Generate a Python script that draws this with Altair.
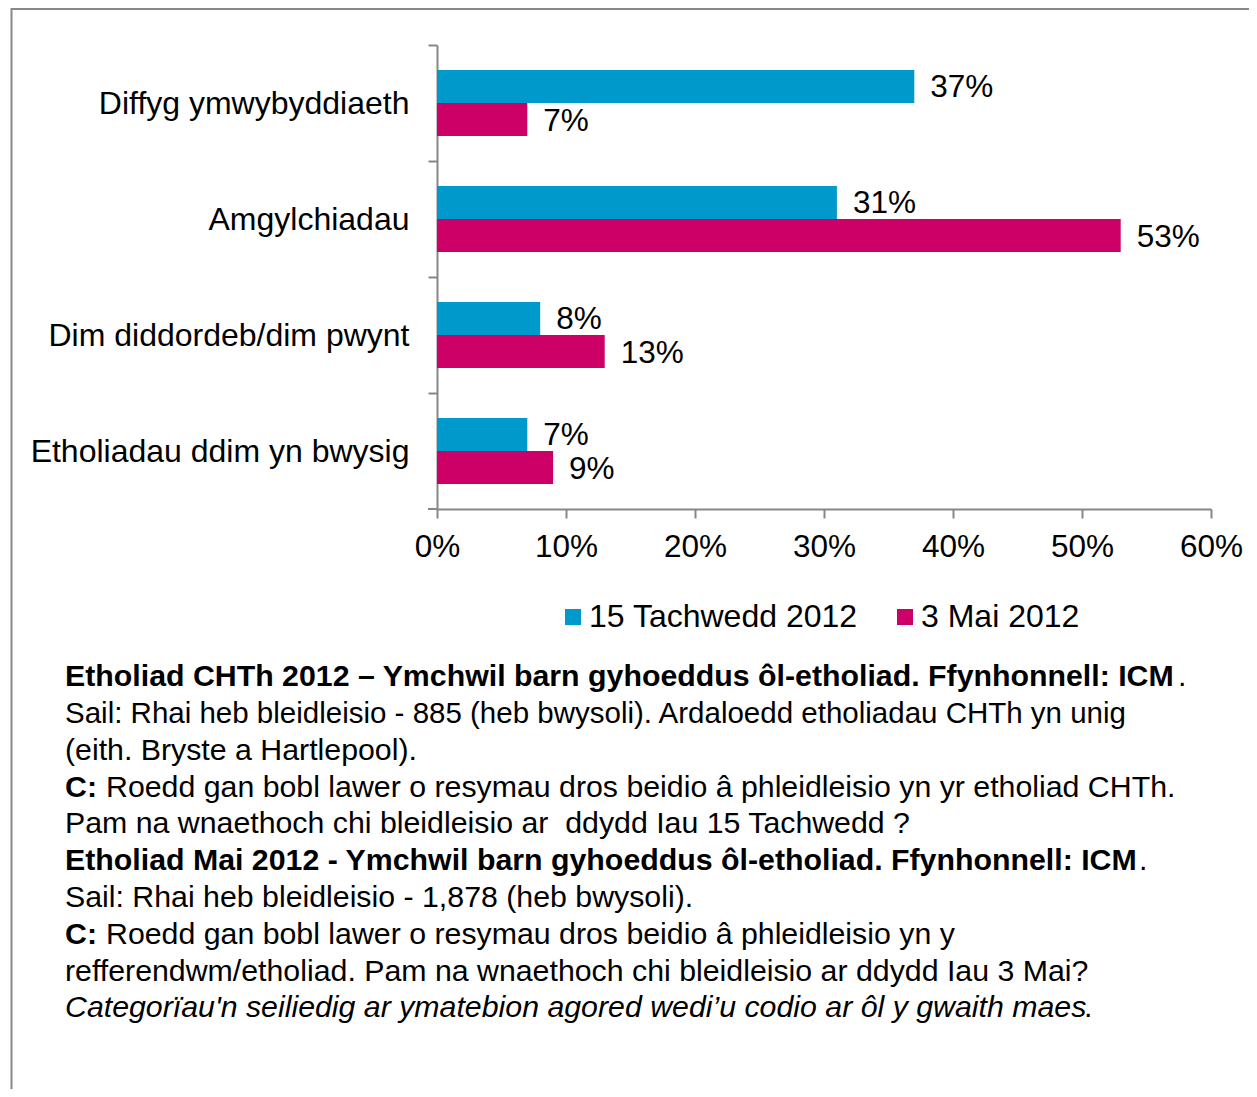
import altair as alt
import pandas as pd

# ---------------- data ----------------
categories = [
    "Diffyg ymwybyddiaeth",
    "Amgylchiadau",
    "Dim diddordeb/dim pwynt",
    "Etholiadau ddim yn bwysig",
]
series = ["15 Tachwedd 2012", "3 Mai 2012"]
values_nov = [0.37, 0.31, 0.08, 0.07]
values_may = [0.07, 0.53, 0.13, 0.09]
x_ticks = [0, 0.1, 0.2, 0.3, 0.4, 0.5, 0.6]
colors = ["#0099CC", "#CC0066"]

footer_texts = [
    "Etholiad CHTh 2012 \u2013 Ymchwil barn gyhoeddus \u00f4l-etholiad. Ffynhonnell: ICM",
    "Sail: Rhai heb bleidleisio - 885 (heb bwysoli). Ardaloedd etholiadau CHTh yn unig",
    "(eith. Bryste a Hartlepool).",
    "Roedd gan bobl lawer o resymau dros beidio \u00e2 phleidleisio yn yr etholiad CHTh.",
    "Pam na wnaethoch chi bleidleisio ar\u00a0 ddydd Iau 15 Tachwedd ?",
    "Etholiad Mai 2012 - Ymchwil barn gyhoeddus \u00f4l-etholiad. Ffynhonnell: ICM",
    "Sail: Rhai heb bleidleisio - 1,878 (heb bwysoli).",
    "Roedd gan bobl lawer o resymau dros beidio \u00e2 phleidleisio yn y",
    "refferendwm/etholiad. Pam na wnaethoch chi bleidleisio ar ddydd Iau 3 Mai?",
    "Categor\u00efau'n seiliedig ar ymatebion agored wedi\u2019u codio ar \u00f4l y gwaith maes",
]

rows = []
for c, a, b in zip(categories, values_nov, values_may):
    rows.append({"category": c, "series": series[0], "value": a})
    rows.append({"category": c, "series": series[1], "value": b})
df = pd.DataFrame(rows)

# ---------------- style ----------------
FONT = "Liberation Sans"
GRAY = "#878787"
W, H = 774, 464
STEP = H / len(categories)
FS_CAT = 32
FS_NUM = 31.5
FFS = 30.3

base = alt.Chart(df).encode(
    y=alt.Y(
        "category:N",
        sort=categories,
        scale=alt.Scale(paddingInner=0.431, paddingOuter=0.2155),
        axis=alt.Axis(
            title=None,
            tickOffset=-STEP / 2,
            labelOffset=STEP / 2,
            labelFont=FONT,
            labelFontSize=FS_CAT,
            labelColor="black",
            labelPadding=19,
            labelLimit=0,
            tickSize=9,
            tickColor=GRAY,
            tickWidth=2,
            domainColor=GRAY,
            domainWidth=2,
        ),
    ),
    yOffset=alt.YOffset(
        "series:N", sort=series, scale=alt.Scale(paddingInner=0, paddingOuter=0)
    ),
)

xenc = alt.X(
    "value:Q",
    scale=alt.Scale(domain=[0, 0.6]),
    axis=alt.Axis(
        title=None,
        values=x_ticks,
        format=".0%",
        grid=False,
        labelFlush=False,
        labelFont=FONT,
        labelFontSize=FS_NUM,
        labelColor="black",
        labelPadding=13,
        tickSize=9,
        tickColor=GRAY,
        tickWidth=2,
        domainColor=GRAY,
        domainWidth=2,
    ),
)

bars = base.mark_bar().encode(
    x=xenc,
    color=alt.Color(
        "series:N",
        sort=series,
        scale=alt.Scale(domain=series, range=colors),
        legend=alt.Legend(
            title=None,
            orient="none",
            direction="horizontal",
            legendX=120,
            legendY=556,
            symbolType="square",
            symbolSize=256,
            symbolStrokeWidth=0,
            labelFont=FONT,
            labelFontSize=FS_CAT,
            labelColor="black",
            labelOffset=0,
            columnPadding=31,
            padding=0,
            labelLimit=0,
        ),
    ),
)

labels = base.mark_text(
    align="left", baseline="middle", dx=16, dy=2, font=FONT, fontSize=FS_NUM, color="black"
).encode(x=alt.X("value:Q"), text=alt.Text("value:Q", format=".0%"))

one = alt.Data(values=[{}])

border = alt.Chart(one).mark_rect(
    filled=False, stroke="#888888", strokeWidth=2
).encode(
    x=alt.value(-425.5), y=alt.value(-36), x2=alt.value(2000), y2=alt.value(2000)
)

# closing tick of the category axis at the bottom band boundary
end_tick = alt.Chart(one).mark_rule(color=GRAY, strokeWidth=2).encode(
    x=alt.value(-9), x2=alt.value(0), y=alt.value(H)
)


def txt(s, x, y, weight="normal", style="normal", size=FFS):
    return alt.Chart(one).mark_text(
        text=s,
        align="left",
        baseline="alphabetic",
        font=FONT,
        fontSize=size,
        fontWeight=weight,
        fontStyle=style,
        color="black",
    ).encode(x=alt.value(x), y=alt.value(y))


X0 = -372  # left edge of footer, relative to plot
ys = [641, 678, 715, 752, 788, 825, 862, 899, 936, 972]
footer = [
    txt(footer_texts[0], X0, ys[0], weight="bold"),
    txt(".", 741, ys[0]),
    txt(footer_texts[1], X0, ys[1], size=29.5),
    txt(footer_texts[2], X0, ys[2]),
    txt("C:", X0, ys[3], weight="bold"),
    txt(footer_texts[3], -331, ys[3]),
    txt(footer_texts[4], X0, ys[4]),
    txt(footer_texts[5], X0, ys[5], weight="bold"),
    txt(".", 702, ys[5]),
    txt(footer_texts[6], X0, ys[6]),
    txt("C:", X0, ys[7], weight="bold"),
    txt(footer_texts[7], -331, ys[7]),
    txt(footer_texts[8], X0, ys[8]),
    txt(footer_texts[9], X0, ys[9], style="italic"),
    txt(".", 647, ys[9]),
]

chart = (
    alt.layer(border, bars, labels, end_tick, *footer)
    .properties(
        width=W,
        height=H,
        autosize=alt.AutoSizeParams(type="none"),
        padding={"left": 429, "top": 37, "right": 38, "bottom": 580},
    )
    .configure_view(stroke=None)
)

chart.save("out.html", embed_options={"renderer": "svg", "actions": False})
